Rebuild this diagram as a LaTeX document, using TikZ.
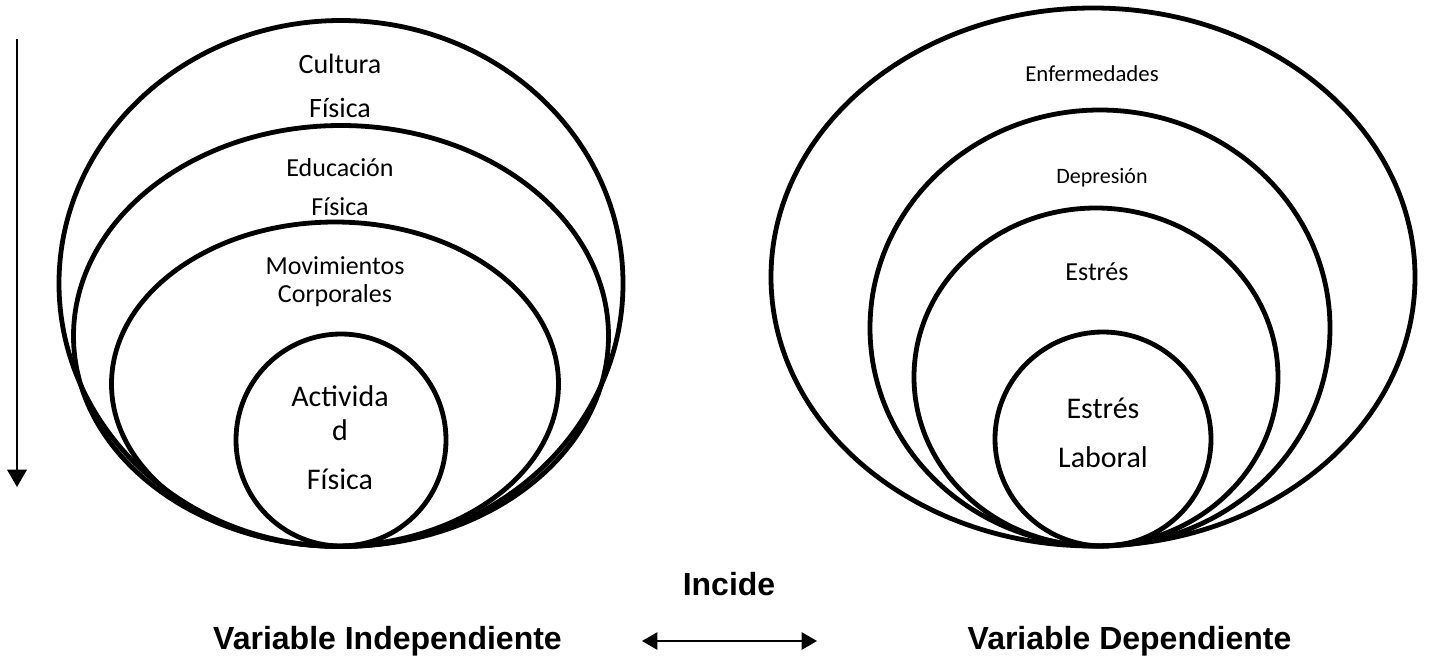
\documentclass[tikz,border=0pt]{standalone}
\usepackage{fontspec}
\setmainfont{Carlito}
\newfontfamily\arialfont{Liberation Sans}
\usetikzlibrary{arrows}
\usetikzlibrary{shapes.geometric}

\tikzset{
  ring/.style={draw, ellipse, line width=2.4pt, inner sep=0pt},
  word/.style={anchor=base, align=center, inner sep=0pt},
  heading/.style={anchor=base, inner sep=0pt, font=\arialfont\bfseries\fontsize{16}{19}\selectfont},
}

\begin{document}
\begin{tikzpicture}[x=0.5pt, y=-0.5pt]
  \useasboundingbox (0,0) rectangle (1446,659);
  % variable independiente
  \node[ring, minimum width=282pt, minimum height=263pt] (cultura) at (341,283.5) {};
  \node[ring, minimum width=267.5pt, minimum height=210.5pt] (educacion) at (341,336) {};
  \node[ring, minimum width=223.5pt, minimum height=162pt] (movimientos) at (335,384) {};
  \node[ring, minimum width=105pt, minimum height=106pt] (actividad) at (341,440) {};
  \node[word, font=\fontsize{14}{22}\selectfont] (cultura text) at (340,117) {Cultura\\Física};
  \node[word, font=\fontsize{13}{19.5}\selectfont] (educacion text) at (340,215) {Educación\\Física};
  \node[word, font=\fontsize{13}{14.25}\selectfont] (movimientos text) at (335,302.5) {Movimientos\\Corporales};
  \node[word, font=\fontsize{15}{17}\selectfont] (actividad text) at (340,489) {Activida\\d\\[7.5pt]Física};
  % variable dependiente
  \node[ring, minimum width=322pt, minimum height=269pt] (enfermedades) at (1093,277) {};
  \node[ring, minimum width=230pt, minimum height=218pt] (depresion) at (1100,328) {};
  \node[ring, minimum width=182pt, minimum height=169pt] (estres) at (1096,377) {};
  \node[ring, minimum width=108pt, minimum height=107pt] (laboral) at (1103,439) {};
  \node[word, font=\fontsize{11.4}{14}\selectfont] (enfermedades text) at (1092,81) {Enfermedades};
  \node[word, font=\fontsize{11}{14}\selectfont] (depresion text) at (1102,183) {Depresión};
  \node[word, font=\fontsize{13}{16}\selectfont] (estres text) at (1097,280) {Estrés};
  \node[word, font=\fontsize{15}{24.5}\selectfont] (laboral text) at (1103,467) {Estrés\\Laboral};
  % bottom line
  \node[heading] (incide) at (729,595) {Incide};
  \node[heading] (independiente) at (387.5,649) {Variable Independiente};
  \node[heading] (dependiente) at (1129.5,649) {Variable Dependiente};
  \coordinate (down top) at (17,39);
  \coordinate (down end) at (17,487);
  \coordinate (incide left) at (642,641);
  \coordinate (incide right) at (817,641);
\draw[line width=1.4pt, -triangle 60] (down top) -- (down end);
\draw[line width=1.1pt, triangle 60-triangle 60] (incide left) -- (incide right);
\end{tikzpicture}
\end{document}
